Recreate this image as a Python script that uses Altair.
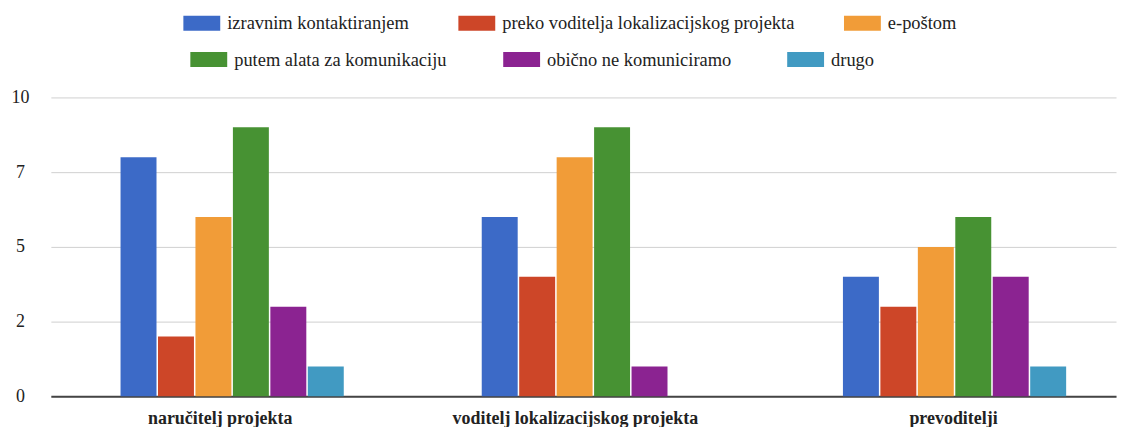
import altair as alt
import pandas as pd

categories = ["naručitelj projekta", "voditelj lokalizacijskog projekta", "prevoditelji"]
series = [
    "izravnim kontaktiranjem",
    "preko voditelja lokalizacijskog projekta",
    "e-poštom",
    "putem alata za komunikaciju",
    "obično ne komuniciramo",
    "drugo",
]
izravnim = [8, 6, 4]
preko = [2, 4, 3]
eposta = [6, 8, 5]
alati = [9, 9, 6]
ne_kom = [3, 1, 4]
drugo = [1, 0, 1]
colors = ["#3c6ac7", "#cd4628", "#f19c38", "#479233", "#8b2391", "#419ac2"]
y_ticks = [0, 2.5, 5, 7.5, 10]

rows = []
for s, vals in zip(series, [izravnim, preko, eposta, alati, ne_kom, drugo]):
    for c, v in zip(categories, vals):
        rows.append({"kategorija": c, "nacin": s, "vrijednost": v})
df = pd.DataFrame(rows)

FONT = "Liberation Serif"

label_offset = {
    "condition": [
        {"test": f"datum.value == '{categories[0]}'", "value": -12},
        {"test": f"datum.value == '{categories[1]}'", "value": -18},
    ],
    "value": -1,
}

x_enc = alt.X(
    "kategorija:N",
    sort=categories,
    scale=alt.Scale(paddingInner=0.382, paddingOuter=0.1655, align=0.583),
    axis=alt.Axis(
        title=None, labelAngle=0, ticks=False, grid=False,
        labelFont=FONT, labelFontSize=18, labelFontWeight="bold",
        labelColor="#222", labelPadding=13, domainColor="#444", domainWidth=2,
        labelLimit=0, labelOffset=label_offset,
    ),
)
xoff_enc = alt.XOffset(
    "nacin:N", sort=series,
    scale=alt.Scale(domain=series, paddingInner=0.04, paddingOuter=0),
)
y_enc = alt.Y(
    "vrijednost:Q",
    scale=alt.Scale(domain=[0, 10], nice=False),
    axis=alt.Axis(
        title=None, values=y_ticks, labelExpr="floor(datum.value)",
        ticks=False, domain=False, labelFont=FONT, labelFontSize=18,
        labelColor="#222", labelAlign="center", labelPadding=31,
        gridColor="#d0d0d0", gridWidth=1,
    ),
)


def legend(x, y, pad):
    return alt.Legend(
        title=None, orient="none", legendX=x, legendY=y,
        columns=3, columnPadding=pad, direction="horizontal",
        symbolType="M-1,-0.405L1,-0.405L1,0.405L-1,0.405Z", symbolSize=1369,
        symbolStrokeWidth=0, symbolOpacity=1, labelFont=FONT,
        labelFontSize=18.5, labelColor="#222", labelLimit=0, labelOffset=7,
    )


row1 = series[:3]
row2 = series[3:]

bars1 = alt.Chart(df).transform_filter(
    alt.FieldOneOfPredicate(field="nacin", oneOf=row1)
).mark_bar().encode(
    x=x_enc, xOffset=xoff_enc, y=y_enc,
    color=alt.Color("nacin:N", sort=row1,
                    scale=alt.Scale(domain=row1, range=colors[:3]),
                    legend=legend(133, -93, 49)),
)
bars2 = alt.Chart(df).transform_filter(
    alt.FieldOneOfPredicate(field="nacin", oneOf=row2)
).mark_bar().encode(
    x=x_enc, xOffset=xoff_enc, y=y_enc,
    color=alt.Color("nacin:N", sort=row2,
                    scale=alt.Scale(domain=row2, range=colors[3:]),
                    legend=legend(140, -56.5, 56)),
)

chart = alt.layer(bars1, bars2).resolve_scale(color="independent").properties(
    width=1069, height=300,
    autosize=alt.AutoSizeParams(type="none"),
    padding={"left": 43, "top": 89, "right": 2, "bottom": 30},
).configure(font=FONT).configure_legend(labelFont=FONT).configure_view(stroke=None)

chart.save("out.html", embed_options={"renderer": "svg", "actions": False})
